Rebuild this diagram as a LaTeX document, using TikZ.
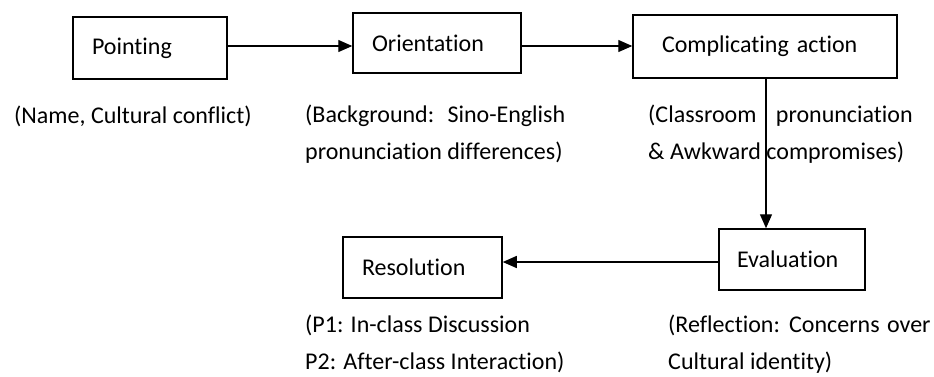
\documentclass[tikz,border=0pt]{standalone}
\usepackage{fontspec}
\setmainfont{Carlito}[Ligatures=NoCommon]
\usetikzlibrary{arrows.meta}
\begin{document}
\begin{tikzpicture}[x=1pt,y=-1pt,
  font=\fontsize{24}{37}\selectfont,
  box/.style={draw, line width=1.5pt, align=left, inner ysep=0pt},
  arr/.style={line width=1.3pt, -{Triangle[length=14pt,width=12pt]}},
  lbl/.style={anchor=base west, inner sep=0pt, align=left}]
\useasboundingbox (0,0) rectangle (934,376);

% stage boxes
\node[box, text width=116pt, inner xsep=19pt, minimum height=62pt] (point) at (150,48) {Pointing};
\node[box, text width=130pt, inner xsep=19pt, minimum height=60pt] (orient) at (437,43) {Orientation};
\node[box, text width=206pt, inner xsep=29pt, minimum height=63pt] (comp) at (765,46.5) {Complicating action};
\node[box, text width=110pt, inner xsep=18pt, minimum height=61pt] (eval) at (792,259.5) {Evaluation};
\node[box, text width=121pt, inner xsep=19pt, minimum height=61pt] (resol) at (422.5,267.5) {Resolution};

% guide coordinates for the connectors
\coordinate (row1) at (0,46);
\coordinate (row2) at (0,262);
\coordinate (col) at (766,0);

% connectors
\draw[arr] (point.east |- row1) -- (orient.west |- row1);
\draw[arr] (orient.east |- row1) -- (comp.west |- row1);
\draw[arr] (comp.south -| col) -- (eval.north -| col);
\draw[arr] (eval.west |- row2) -- (resol.east |- row2);

% notes under each stage (base anchor sits on the last line)
\node[lbl] (ptnote) at (14,123) {(Name, Cultural conflict)};
\node[lbl] (ornote) at (305,159) {(Background:\hspace{6pt} Sino-English\\pronunciation differences)};
\node[lbl] (canote) at (648,159) {(Classroom\hspace{14pt} pronunciation\\\& Awkward compromises)};
\node[lbl] (evnote) at (668,369) {(Reflection:\hspace{2pt} Concerns\hspace{2pt} over\\Cultural identity)};
\node[lbl] (renote) at (305,369) {(P1: In-class Discussion\\P2: After-class Interaction)};
\end{tikzpicture}
\end{document}
